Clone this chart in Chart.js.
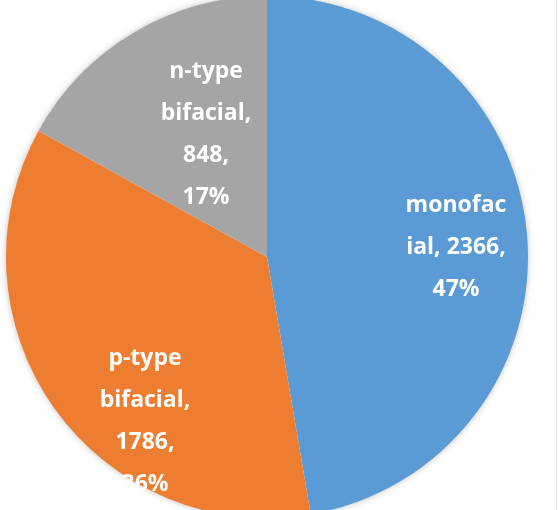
<!DOCTYPE html>
<html lang="en">
<head>
    <meta charset="UTF-8">
    <title>Module type share</title>
    <script src="https://cdn.jsdelivr.net/npm/chart.js"></script>
    <style>
        html, body { margin: 0; padding: 0; background: #ffffff; overflow: hidden; }
        #wrap { position: relative; width: 559px; height: 510px; overflow: hidden; }
        #pieChart { position: absolute; left: 0; top: -4px; }
        #edge { position: absolute; left: 556px; top: 0; width: 1px; height: 510px; background: #e4e6ea; }
    </style>
</head>
<body>
    <div id="wrap">
        <canvas id="pieChart" width="559" height="522"></canvas>
        <div id="edge"></div>
    </div>

    <script>
        // Dati del grafico
        const categories = ['monofacial', 'p-type bifacial', 'n-type bifacial'];
        const values = [2366, 1786, 848];
        const percents = ['47%', '36%', '17%'];
        // Etichette come sono spezzate nell'originale
        const labelLines = [
            ['monofac', 'ial, 2366,', '47%'],
            ['p-type', 'bifacial,', '1786,', '36%'],
            ['n-type', 'bifacial,', '848,', '17%']
        ];
        const colors = ['#5b9bd5', '#ed7d31', '#a5a5a5'];

        // Posizione delle etichette: frazione del raggio e scarto angolare (gradi)
        const labelPlace = [
            { frac: 0.725, shift: 1.5 },
            { frac: 0.78, shift: -17.8 },
            { frac: 0.53, shift: 4.4 }
        ];

        // Ombra morbida attorno alla torta
        const pieShadow = {
            id: 'pieShadow',
            beforeDatasetsDraw(chart) {
                const arc = chart.getDatasetMeta(0).data[0];
                if (!arc) return;
                const ctx = chart.ctx;
                ctx.save();
                ctx.shadowColor = 'rgba(0, 0, 0, 0.28)';
                ctx.shadowBlur = 7;
                ctx.fillStyle = '#ffffff';
                ctx.beginPath();
                ctx.arc(arc.x, arc.y, arc.outerRadius - 0.5, 0, Math.PI * 2);
                ctx.fill();
                ctx.restore();
            }
        };

        // Etichette dei dati scritte sopra le fette
        const sliceLabels = {
            id: 'sliceLabels',
            afterDraw(chart) {
                const ctx = chart.ctx;
                const meta = chart.getDatasetMeta(0);
                ctx.save();
                ctx.fillStyle = '#ffffff';
                ctx.font = 'bold 23px "Open Sans"';
                ctx.textAlign = 'center';
                ctx.textBaseline = 'alphabetic';
                meta.data.forEach((arc, i) => {
                    const p = arc.getProps(['x', 'y', 'startAngle', 'endAngle', 'outerRadius'], true);
                    const mid = (p.startAngle + p.endAngle) / 2 + labelPlace[i].shift * Math.PI / 180;
                    const d = p.outerRadius * labelPlace[i].frac;
                    const cx = Math.round(p.x + Math.cos(mid) * d);
                    const cy = Math.round(p.y + Math.sin(mid) * d);
                    const lines = labelLines[i];
                    const lh = 42;
                    lines.forEach((t, k) => {
                        ctx.fillText(t, cx, cy + (k - (lines.length - 1) / 2) * lh + 8);
                    });
                });
                ctx.restore();
            }
        };

        const ctx = document.getElementById('pieChart').getContext('2d');
        const pieChart = new Chart(ctx, {
            type: 'pie',
            data: {
                labels: categories,
                datasets: [{
                    data: values,
                    backgroundColor: colors,
                    borderWidth: 0
                }]
            },
            options: {
                responsive: false,
                animation: false,
                layout: { padding: { left: 0, right: 25, top: 0, bottom: 0 } },
                plugins: {
                    legend: { display: false },
                    tooltip: { enabled: false }
                }
            },
            plugins: [pieShadow, sliceLabels]
        });
    </script>
</body>
</html>
